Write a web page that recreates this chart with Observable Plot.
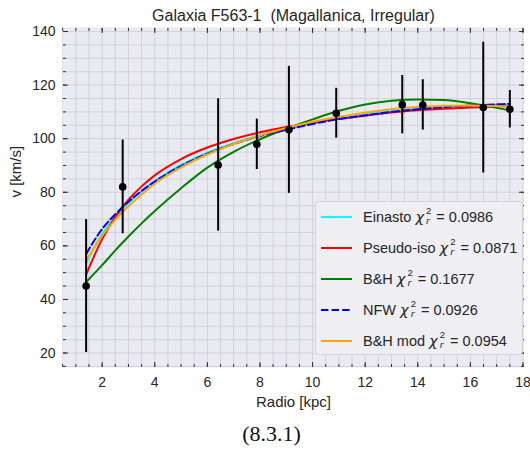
<!DOCTYPE html>
<html><head><meta charset="utf-8">
<script src="https://cdn.jsdelivr.net/npm/d3@7"></script>
<script src="https://cdn.jsdelivr.net/npm/@observablehq/plot@0.6"></script>
<style>
body{margin:0;background:#fff;font-family:"Liberation Sans",Arial,sans-serif;color:#262626;}
#wrap{position:relative;width:530px;height:457px;overflow:hidden;}
#legend{position:absolute;left:315px;top:201px;width:208px;height:154px;background:#eeeef3;border:1px solid #d4d4da;border-radius:4px;box-sizing:border-box;}
.row{position:absolute;left:5px;height:26px;display:flex;align-items:center;white-space:nowrap;font-size:14.5px;color:#262626;}
.row svg{margin-right:11px;}
.chi{font-style:italic;font-family:"DejaVu Sans",sans-serif;font-size:14.5px;padding-right:1px;}
.ss{display:inline-flex;flex-direction:column;font-size:9.5px;line-height:10px;margin:0 1px 0 1px;position:relative;top:-1px;}
.ss i{font-family:"DejaVu Sans",sans-serif;}
</style></head><body><div id="wrap"></div>
<script>
// measured data (radius in kpc, velocity in km/s)
const radius = [1.39, 2.78, 6.41, 7.88, 9.10, 10.90, 13.41, 14.19, 16.49, 17.50];
const velocity = [45.0, 82.0, 90.2, 97.9, 103.3, 109.5, 112.7, 112.6, 111.6, 111.0];
const velocityError = [24.8, 17.5, 24.7, 9.4, 23.7, 9.3, 10.9, 9.4, 24.4, 7.0];

// model curves
const curveRadius = [1.39, 2, 2.5, 3, 3.5, 4, 5, 6, 7, 8, 9, 10, 11, 12, 13, 14, 15, 16, 17, 17.5];
const einasto   = [53.5, 64.5, 70.8, 76.0, 80.4, 84.2, 90.2, 94.8, 98.3, 101.3, 103.7, 105.8, 107.6, 109.0, 110.3, 111.2, 111.9, 112.3, 112.6, 112.7];
const pseudoIso = [49.3, 62.5, 70.8, 77.2, 82.2, 86.3, 92.4, 96.7, 99.9, 102.4, 104.4, 106.0, 107.4, 108.6, 109.8, 110.6, 111.2, 111.6, 112.0, 112.1];
const bh        = [46.5, 52.8, 58.3, 63.5, 68.4, 73.0, 81.5, 89.2, 95.1, 99.8, 103.7, 107.2, 110.4, 112.8, 114.2, 114.6, 114.4, 113.2, 111.5, 110.5];
const nfw       = [57.0, 66.3, 71.8, 76.5, 80.5, 84.0, 89.8, 94.4, 98.0, 101.0, 103.3, 105.5, 107.3, 108.7, 110.0, 111.0, 111.8, 112.4, 112.8, 113.0];
const bhMod     = [54.5, 63.8, 69.8, 74.8, 79.2, 83.2, 89.3, 94.1, 98.0, 101.2, 104.0, 106.3, 108.2, 109.7, 111.0, 111.8, 112.3, 112.4, 112.2, 112.0];

const modelNames = ["Einasto", "Pseudo-iso", "B&H", "NFW", "B&H mod"];
const modelChi2 = ["0.0986", "0.0871", "0.1677", "0.0926", "0.0954"];
const modelColors = ["cyan", "red", "green", "blue", "orange"];
const modelDash = [null, null, null, "7.4,3.2", null];
const modelSeries = [einasto, pseudoIso, bh, nfw, bhMod];

const xTicks = [2, 4, 6, 8, 10, 12, 14, 16, 18];
const yTicks = [20, 40, 60, 80, 100, 120, 140];
const xMinor = d3.range(0.5, 18.01, 0.5);
const yMinor = d3.range(15, 141, 5);

const titleText = "Galaxia F563-1 \u00a0(Magallanica, Irregular)";
const xLabel = "Radio [kpc]";
const yLabel = "v [km/s]";
const captionText = "(8.3.1)";

const points = radius.map((r, i) => ({r, v: velocity[i], e: velocityError[i]}));
const curves = modelSeries.map((s, k) => curveRadius.map((r, i) => ({r, v: s[i], k})));

const tickColor = "#333";
const font = "'Liberation Sans', Arial, sans-serif";

const chart = Plot.plot({
  width: 530, height: 457,
  marginTop: 27, marginBottom: 90, marginLeft: 63, marginRight: 7,
  x: {domain: [0.53, 18.02], label: null},
  y: {domain: [14.6, 141.5], label: null},
  style: {fontFamily: font, fontSize: "14px", color: "#262626", background: "white", overflow: "visible"},
  marks: [
    Plot.frame({fill: "#eaeaf2", stroke: null}),
    Plot.gridX(xMinor, {stroke: "#cfcfd6", strokeOpacity: 1, strokeWidth: 0.9}),
    Plot.gridY(yMinor, {stroke: "#cfcfd6", strokeOpacity: 1, strokeWidth: 0.9}),
    // ticks (inward)
    Plot.axisX(xMinor, {anchor: "bottom", tickSize: 3, insetBottom: 3, fill: "none", stroke: tickColor, label: null}),
    Plot.axisX(xTicks, {anchor: "bottom", tickSize: 5, insetBottom: 5, fill: "none", stroke: tickColor, label: null}),
    Plot.axisX(xMinor, {anchor: "top", tickSize: 3, insetTop: 3, fill: "none", stroke: tickColor, label: null}),
    Plot.axisX(xTicks, {anchor: "top", tickSize: 5, insetTop: 5, fill: "none", stroke: tickColor, label: null}),
    Plot.axisY(yMinor, {anchor: "left", tickSize: 3, insetLeft: 3, fill: "none", stroke: tickColor, label: null}),
    Plot.axisY(yTicks, {anchor: "left", tickSize: 5, insetLeft: 5, fill: "none", stroke: tickColor, label: null}),
    Plot.axisY(yMinor, {anchor: "right", tickSize: 3, insetRight: 3, fill: "none", stroke: tickColor, label: null}),
    Plot.axisY(yTicks, {anchor: "right", tickSize: 5, insetRight: 5, fill: "none", stroke: tickColor, label: null}),
    // tick labels
    Plot.axisX(xTicks, {anchor: "bottom", tickSize: 0, tickPadding: 10, fontSize: 14, fill: "#262626", label: null}),
    Plot.axisY(yTicks, {anchor: "left", tickSize: 0, tickPadding: 8, fontSize: 14, fill: "#262626", label: null}),
    // model curves
    ...curves.map((c, k) => Plot.line(c, {x: "r", y: "v", stroke: modelColors[k], strokeWidth: 2, strokeDasharray: modelDash[k], curve: "monotone-x"})),
    // error bars and points (on top)
    Plot.ruleX(points, {x: "r", y1: d => d.v - d.e, y2: d => d.v + d.e, stroke: "black", strokeWidth: 2}),
    Plot.dot(points, {x: "r", y: "v", r: 3.8, fill: "black", stroke: null}),
    // texts
    Plot.text([titleText], {text: d => d, frameAnchor: "top", dy: -12, fontSize: 16, fill: "#262626", lineAnchor: "middle"}),
    Plot.text([xLabel], {text: d => d, frameAnchor: "bottom", dy: 35, fontSize: 15, fill: "#262626", lineAnchor: "middle"}),
    Plot.text([yLabel], {text: d => d, frameAnchor: "left", dx: -47, rotate: -90, fontSize: 15, fill: "#262626", lineAnchor: "middle"}),
    Plot.text([captionText], {text: d => d, frameAnchor: "bottom", dy: 66, dx: -22, fontSize: 22, fill: "#111", fontFamily: "'Liberation Serif', 'DejaVu Serif', serif", lineAnchor: "middle"})
  ]
});

const wrap = document.getElementById("wrap");
wrap.appendChild(chart);

const legend = document.createElement("div");
legend.id = "legend";
modelNames.forEach((name, i) => {
  const row = document.createElement("div");
  row.className = "row";
  row.style.top = (15 + 31 * i - 13) + "px";
  const dash = modelDash[i] ? `stroke-dasharray="${modelDash[i]}"` : "";
  row.innerHTML = `<svg width="31" height="6"><line x1="0" x2="31" y1="3" y2="3" stroke="${modelColors[i]}" stroke-width="2" ${dash}/></svg>` +
    `<span>${name.replace("&", "&amp;")}&nbsp;</span><span class="chi">χ</span><span class="ss"><span>2</span><i>r</i></span><span>&nbsp;= ${modelChi2[i]}</span>`;
  legend.appendChild(row);
});
wrap.appendChild(legend);
</script>
</body></html>
